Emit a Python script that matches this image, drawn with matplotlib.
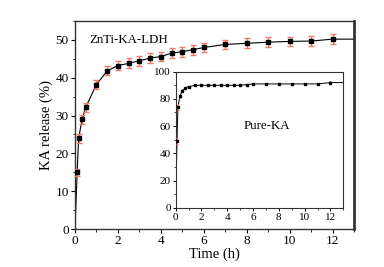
import numpy as np
import matplotlib
matplotlib.use("Agg")
import matplotlib.pyplot as plt
from matplotlib.ticker import MultipleLocator

plt.rcParams["font.family"] = ["Liberation Serif", "DejaVu Serif"]

# ZnTi-KA-LDH release
t_ldh = [0, 0.1, 0.17, 0.33, 0.5, 1, 1.5, 2, 2.5, 3, 3.5, 4, 4.5, 5, 5.5, 6, 7, 8, 9, 10, 11, 12, 13]
y_ldh = [0, 15.0, 24.0, 29.0, 32.2, 38.2, 41.8, 43.2, 43.8, 44.5, 45.2, 45.6, 46.5, 46.9, 47.4, 48.0, 48.8, 49.1, 49.4, 49.6, 49.7, 50.2, 50.2]
err_ldh = [0, 0.9, 1.2, 1.2, 1.2, 1.2, 1.2, 1.2, 1.3, 1.3, 1.3, 1.3, 1.3, 1.3, 1.3, 1.3, 1.3, 1.3, 1.3, 1.3, 1.3, 1.3, 0]

# pure KA release (inset)
t_ka = [0, 0.1, 0.17, 0.33, 0.5, 0.75, 1, 1.5, 2, 2.5, 3, 3.5, 4, 4.5, 5, 5.5, 6, 7, 8, 9, 10, 11, 12, 13]
y_ka = [0, 49, 74, 82, 86, 88, 89, 90, 90, 90, 90, 90, 90, 90, 90, 90.5, 91, 91, 91, 91, 91, 91, 92, 92]
err_ka = [0, 2.0, 2.0, 1.2, 1.0, 0.8, 0.8, 0.8, 0.8, 0.8, 0.8, 0.8, 0.8, 0.8, 0.8, 0.8, 0.8, 0.8, 0.8, 0.8, 0.8, 0.8, 0.8, 0]

red = "#ef7a68"

fig = plt.figure(figsize=(3.84, 2.67), dpi=100)
ax = fig.add_axes([75 / 384, 1 - 229 / 267, 279 / 384, 208 / 267])

ax.plot(t_ldh, y_ldh, color="black", lw=0.8, zorder=2)
ax.errorbar(t_ldh[1:-1], y_ldh[1:-1], yerr=err_ldh[1:-1], fmt="s", ms=3.3,
            mfc="black", mec="black", ecolor=red, elinewidth=1.0, capsize=2,
            capthick=1.0, zorder=3)
ax.set_xlim(0, 13)
ax.set_ylim(0, 55)
ax.xaxis.set_major_locator(MultipleLocator(2))
ax.xaxis.set_minor_locator(MultipleLocator(1))
ax.yaxis.set_major_locator(MultipleLocator(10))
ax.yaxis.set_minor_locator(MultipleLocator(5))
ax.tick_params(which="both", direction="out", top=False, right=False, labelsize=9.5, pad=1.5)
ax.tick_params(which="major", length=3, width=0.8)
ax.tick_params(which="minor", length=1.8, width=0.6)
ax.set_xlabel("Time (h)", fontsize=10.5, labelpad=0)
ax.set_ylabel("KA release (%)", fontsize=10.5, labelpad=2)
ax.text(0.65, 50, "ZnTi-KA-LDH", fontsize=9.3, va="center")
for s in ax.spines.values():
    s.set_linewidth(1.0)
    s.set_color("#333333")
ax.spines["right"].set_linewidth(2.0)

ins = fig.add_axes([175.7 / 384, 1 - 207.7 / 267, 167.6 / 384, 136 / 267])
ins.plot(t_ka, y_ka, color="black", lw=0.7, zorder=2)
ins.errorbar(t_ka[1:-1], y_ka[1:-1], yerr=err_ka[1:-1], fmt="s", ms=1.6,
             mfc="black", mec="black", ecolor=red, elinewidth=0.6, capsize=1,
             capthick=0.6, zorder=3)
ins.set_xlim(0, 13)
ins.set_ylim(0, 100)
ins.xaxis.set_major_locator(MultipleLocator(2))
ins.xaxis.set_minor_locator(MultipleLocator(1))
ins.yaxis.set_major_locator(MultipleLocator(20))
ins.yaxis.set_minor_locator(MultipleLocator(10))
ins.tick_params(which="both", direction="out", top=False, right=False, labelsize=8, pad=1)
ins.tick_params(which="major", length=2.5, width=0.7)
ins.tick_params(which="minor", length=1.5, width=0.5)
ins.text(5.3, 60, "Pure-KA", fontsize=9.3, va="center")
for s in ins.spines.values():
    s.set_linewidth(0.8)
    s.set_color("#333333")

fig.savefig("out.png", dpi=100)
